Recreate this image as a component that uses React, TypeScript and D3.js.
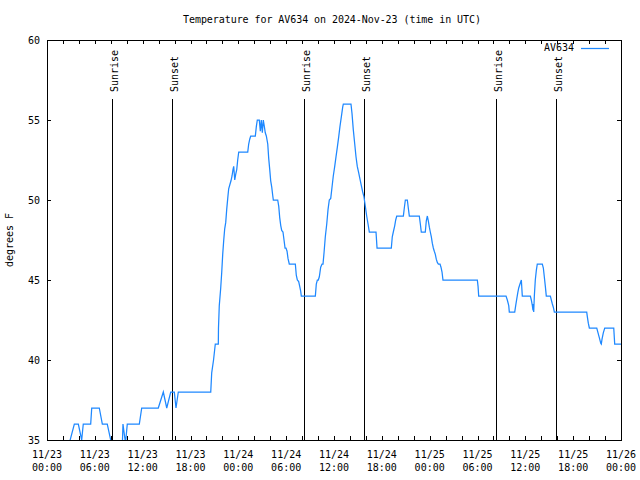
import React from "react";
import * as d3 from "d3";

const START = Date.UTC(2024, 10, 23, 0, 0);
const HOUR = 3600 * 1000;

// hours since 2024-11-23 00:00 UTC
const hours: number[] = [
  0, 2.38, 3.43, 3.93, 4.35, 4.55, 5.48, 5.61, 6.56, 6.94, 7.56, 7.99, 8.28, 9.16,
  9.47, 9.53, 9.66, 9.85, 10.07, 11.58, 11.88, 13.96, 14.59, 15.02, 15.52, 15.97,
  16.18, 16.47, 20.54, 20.66, 20.89, 21.11, 21.49, 21.51, 21.61, 21.79, 21.92,
  22.04, 22.17, 22.29, 22.42, 22.54, 22.67, 22.79, 22.96, 23.08, 23.21, 23.33,
  23.42, 23.55, 23.67, 23.8, 23.92, 24.05, 25.18, 25.3, 25.43, 25.55, 26.13,
  26.26, 26.38, 26.63, 26.76, 26.88, 27.01, 27.13, 27.26, 27.38, 27.51, 27.69,
  27.81, 27.94, 28.06, 28.19, 28.31, 28.39, 28.94, 29.07, 29.19, 29.32, 29.44,
  29.6, 29.73, 29.86, 29.98, 30.11, 30.23, 30.39, 31.15, 31.27, 31.4, 31.57,
  31.7, 31.82, 31.9, 33.66, 33.78, 33.91, 34.03, 34.16, 34.33, 34.5, 34.62,
  34.75, 34.91, 35.09, 35.25, 35.41, 35.59, 35.75, 35.91, 36.09, 36.25, 36.42,
  36.59, 36.75, 36.92, 37.09, 37.17, 38.13, 38.26, 38.42, 38.6, 38.76, 38.92,
  39.1, 39.26, 39.43, 39.6, 39.76, 39.93, 40.1, 40.27, 40.43, 41.27, 41.4,
  43.19, 43.31, 43.44, 43.62, 43.74, 43.87, 44.7, 44.82, 44.95, 45.2, 45.32,
  45.45, 46.7, 46.83, 46.95, 47.45, 47.58, 47.71, 47.83, 47.96, 48.08, 48.21,
  48.33, 48.46, 48.58, 48.71, 48.83, 48.96, 49.09, 49.3, 49.42, 49.55, 49.67,
  53.98, 54.07, 54.15, 57.58, 57.74, 57.92, 57.99, 58.67, 58.79, 58.92, 59.05,
  59.17, 59.33, 59.5, 59.62, 60.63, 60.75, 60.88, 60.96, 61.0, 61.05, 61.13,
  61.25, 61.38, 61.5, 62.13, 62.26, 62.38, 62.51, 62.63, 63.14, 63.26, 63.39,
  63.51, 63.64, 67.7, 67.78, 67.9, 68.03, 68.96, 69.12, 69.28, 69.46, 69.53,
  69.62, 69.78, 69.96, 71.09, 71.21, 72,
];

// temperature, degrees F
const temps: number[] = [
  34, 34, 36, 36, 35, 36, 36, 37, 37, 36, 36, 35, 34, 34,
  35, 36, 35.5, 34.8, 36, 36, 37, 37, 38, 37, 38, 38,
  37, 38, 38, 39.2, 40, 41, 41, 42, 43.4, 44.5, 45.5,
  46.6, 47.5, 48.2, 48.6, 49.4, 50.1, 50.7, 51, 51.2, 51.5, 51.9,
  52.1, 51.25, 51.6, 51.9, 52.5, 53, 53, 53.5, 53.8, 54, 54,
  54.6, 55, 55, 54.3, 55, 54.2, 55, 54.6, 54.2, 54, 53.5,
  52.6, 51.9, 51.2, 50.8, 50.3, 50, 50, 49.6, 48.9, 48.4, 48.1,
  48, 47.5, 47, 47, 46.8, 46.35, 46, 46, 45.3, 45, 44.9,
  44.6, 44.3, 44, 44, 44.75, 45, 45, 45.2, 45.8, 46, 46,
  46.7, 47.7, 48.5, 49.4, 50, 50.1, 50.8, 51.5, 52.1, 52.7, 53.3,
  53.95, 54.6, 55.2, 55.8, 56, 56, 55.4, 54.4, 53.5, 52.7, 52.1,
  51.7, 51.3, 50.9, 50.5, 50.2, 49.6, 49, 48.5, 48, 48, 47,
  47, 47.7, 48, 48.4, 48.75, 49, 49, 49.5, 50, 50, 49.5,
  49, 49, 48.5, 48, 48, 48.7, 49, 48.7, 48.3, 48, 47.7,
  47.3, 47, 46.8, 46.6, 46.3, 46.1, 46, 46, 45.8, 45.5, 45,
  45, 44.6, 44, 44, 43.75, 43.4, 43, 43, 43.4, 43.8, 44.2,
  44.5, 44.75, 45, 44, 44, 43.75, 43.4, 43.1, 43.5, 43, 44,
  45, 45.6, 46, 46, 45.75, 45.2, 44.6, 44, 44, 43.75, 43.5,
  43.3, 43, 43, 42.7, 42.3, 42, 42, 41.7, 41.4, 41.05, 41,
  41.3, 41.7, 42, 42, 41, 41,
];

const sunEventHours: number[] = [8.15, 15.68, 32.24, 39.76, 56.32, 63.85];
const sunEventLabels: string[] = ["Sunrise", "Sunset", "Sunrise", "Sunset", "Sunrise", "Sunset"];

const yTicks: number[] = [35, 40, 45, 50, 55, 60];
const xMajorHours: number[] = [0, 6, 12, 18, 24, 30, 36, 42, 48, 54, 60, 66, 72];
const xTickLabels: string[][] = [
  ["11/23", "00:00"], ["11/23", "06:00"], ["11/23", "12:00"], ["11/23", "18:00"],
  ["11/24", "00:00"], ["11/24", "06:00"], ["11/24", "12:00"], ["11/24", "18:00"],
  ["11/25", "00:00"], ["11/25", "06:00"], ["11/25", "12:00"], ["11/25", "18:00"],
  ["11/26", "00:00"],
];

const TITLE = "Temperature for AV634 on 2024-Nov-23 (time in UTC)";
const SERIES = "AV634";
const Y_LABEL = "degrees F";

const W = 640, H = 480;
const M = { left: 47, right: 621, top: 40, bottom: 440 };
const FONT = "'DejaVu Sans Mono', monospace";
const FS = 10;
const LINE_COLOR = "#1e88ff";

export default function App() {
  const toDate = (h: number) => new Date(START + h * HOUR);
  const x = d3.scaleUtc().domain([toDate(0), toDate(72)]).range([M.left, M.right]);
  const y = d3.scaleLinear().domain([35, 60]).range([M.bottom, M.top]);

  const data = hours.map((h, i) => ({ t: toDate(h), v: temps[i] }));
  const line = d3
    .line<{ t: Date; v: number }>()
    .x((d) => x(d.t))
    .y((d) => y(d.v));

  const minorHours = d3.range(0, 73, 2);
  const tickLen = 4;

  return (
    <svg
      width={W}
      height={H}
      style={{ position: "absolute", left: 0, top: 0, background: "#fff" }}
      fontFamily={FONT}
      fontSize={FS}
    >
      <defs>
        <clipPath id="plotclip">
          <rect x={M.left} y={M.top} width={M.right - M.left} height={M.bottom - M.top} />
        </clipPath>
      </defs>
      <rect x={0} y={0} width={W} height={H} fill="#fff" />

      {/* title */}
      <text x={332} y={23} textAnchor="middle" fill="#000" textLength={298} lengthAdjust="spacing">{TITLE}</text>

      {/* y label */}
      <text
        transform={`translate(13,${(M.top + M.bottom) / 2}) rotate(-90)`}
        textAnchor="middle"
        fill="#000"
      >
        {Y_LABEL}
      </text>

      {/* x ticks */}
      {minorHours.map((h) => {
        const px = Math.round(x(toDate(h))) + 0.5;
        return (
          <g key={"xt" + h} stroke="#000" strokeWidth={1}>
            <line x1={px} x2={px} y1={M.bottom} y2={M.bottom - tickLen} />
            <line x1={px} x2={px} y1={M.top} y2={M.top + tickLen} />
          </g>
        );
      })}
      {xMajorHours.map((h, i) => {
        const px = x(toDate(h));
        return (
          <g key={"xl" + h}>
            <text x={px} y={458} textAnchor="middle" fill="#000">{xTickLabels[i][0]}</text>
            <text x={px} y={471} textAnchor="middle" fill="#000">{xTickLabels[i][1]}</text>
          </g>
        );
      })}

      {/* y ticks */}
      {yTicks.map((v) => {
        const py = Math.round(y(v)) + 0.5;
        return (
          <g key={"yt" + v}>
            <line x1={M.left} x2={M.left + tickLen} y1={py} y2={py} stroke="#000" />
            <line x1={M.right} x2={M.right - tickLen} y1={py} y2={py} stroke="#000" />
            <text x={40} y={py + 3.5} textAnchor="end" fill="#000">{v}</text>
          </g>
        );
      })}

      {/* sunrise / sunset */}
      {sunEventHours.map((h, i) => {
        const px = Math.round(x(toDate(h))) + 0.5;
        return (
          <g key={"sun" + i}>
            <line x1={px} x2={px} y1={99} y2={M.bottom} stroke="#000" strokeWidth={1} />
            <text
              transform={`translate(${px + 5},92) rotate(-90)`}
              textAnchor="start"
              fill="#000"
            >
              {sunEventLabels[i]}
            </text>
          </g>
        );
      })}

      {/* data line */}
      <path
        d={line(data) || ""}
        fill="none"
        stroke={LINE_COLOR}
        strokeWidth={1.25}
        clipPath="url(#plotclip)"
      />

      {/* border */}
      <rect
        x={M.left + 0.5}
        y={M.top + 0.5}
        width={M.right - M.left}
        height={M.bottom - M.top}
        fill="none"
        stroke="#000"
        strokeWidth={1}
      />

      {/* legend */}
      <text x={574} y={51} textAnchor="end" fill="#000">{SERIES}</text>
      <line x1={581} x2={609} y1={48.5} y2={48.5} stroke={LINE_COLOR} strokeWidth={1.25} />
    </svg>
  );
}
